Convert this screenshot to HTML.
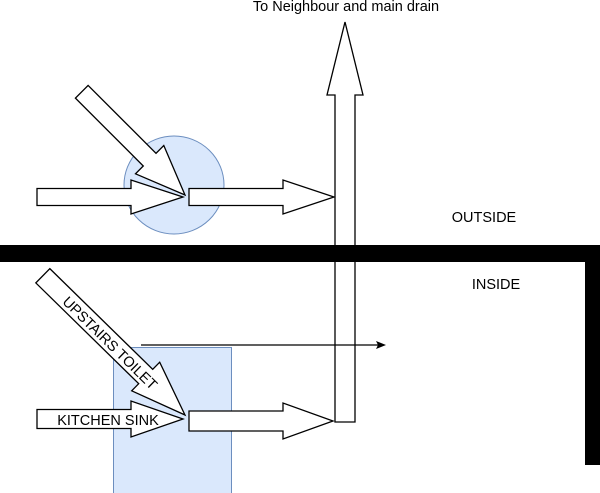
<!DOCTYPE html>
<html><head><style>body{margin:0;background:#fff}svg{display:block}</style></head><body>
<svg width="600" height="493" viewBox="0 0 600 493" xmlns="http://www.w3.org/2000/svg" font-family="Liberation Sans, sans-serif">
<ellipse cx="174" cy="185" rx="50" ry="49" fill="#dae8fc" stroke="#6c8ebf"/>
<rect x="113.5" y="347.5" width="118" height="146" fill="#dae8fc" stroke="#6c8ebf"/>
<g fill="#fff" stroke="#000" stroke-width="1.3">
<g transform="translate(185,195) rotate(45)"><polygon points="-146,-9 -50,-9 -50,-20 0,0 -50,20 -50,9 -146,9"/></g>
<g transform="translate(183,197)"><polygon points="-146,-8.5 -52,-8.5 -52,-17 0,0 -52,17 -52,8.5 -146,8.5"/></g>
<g transform="translate(334,197)"><polygon points="-145,-8.5 -51,-8.5 -51,-17 0,0 -51,17 -51,8.5 -145,8.5"/></g>
<g transform="translate(345,22) rotate(-90)"><polygon points="-400,-10 -73,-10 -73,-18 0,0 -73,18 -73,10 -400,10"/></g>
<g transform="translate(185,415) rotate(44.4)"><polygon points="-199,-10 -55,-10 -55,-20 0,0 -55,20 -55,10 -199,10"/></g>
<g transform="translate(183,419)"><polygon points="-146,-9.5 -52,-9.5 -52,-18 0,0 -52,18 -52,9.5 -146,9.5"/></g>
<g transform="translate(333,421)"><polygon points="-144,-10 -50,-10 -50,-18 0,0 -50,18 -50,10 -144,10"/></g>
</g>
<line x1="141" y1="345" x2="378" y2="345" stroke="#000" stroke-width="1.2"/>
<polygon points="386,345 376,341 378,345 376,349" fill="#000"/>
<rect x="0" y="245" width="600" height="17" fill="#000"/>
<rect x="585" y="245" width="15" height="220" fill="#000"/>
<g font-size="14.5" text-anchor="middle">
<text x="346" y="11">To Neighbour and main drain</text>
<text x="484" y="222">OUTSIDE</text>
<text x="496" y="289">INSIDE</text>
<text x="108" y="425">KITCHEN SINK</text>
<text transform="translate(110,343) rotate(44.4)" y="5">UPSTAIRS TOILET</text>
</g>
</svg>
</body></html>
